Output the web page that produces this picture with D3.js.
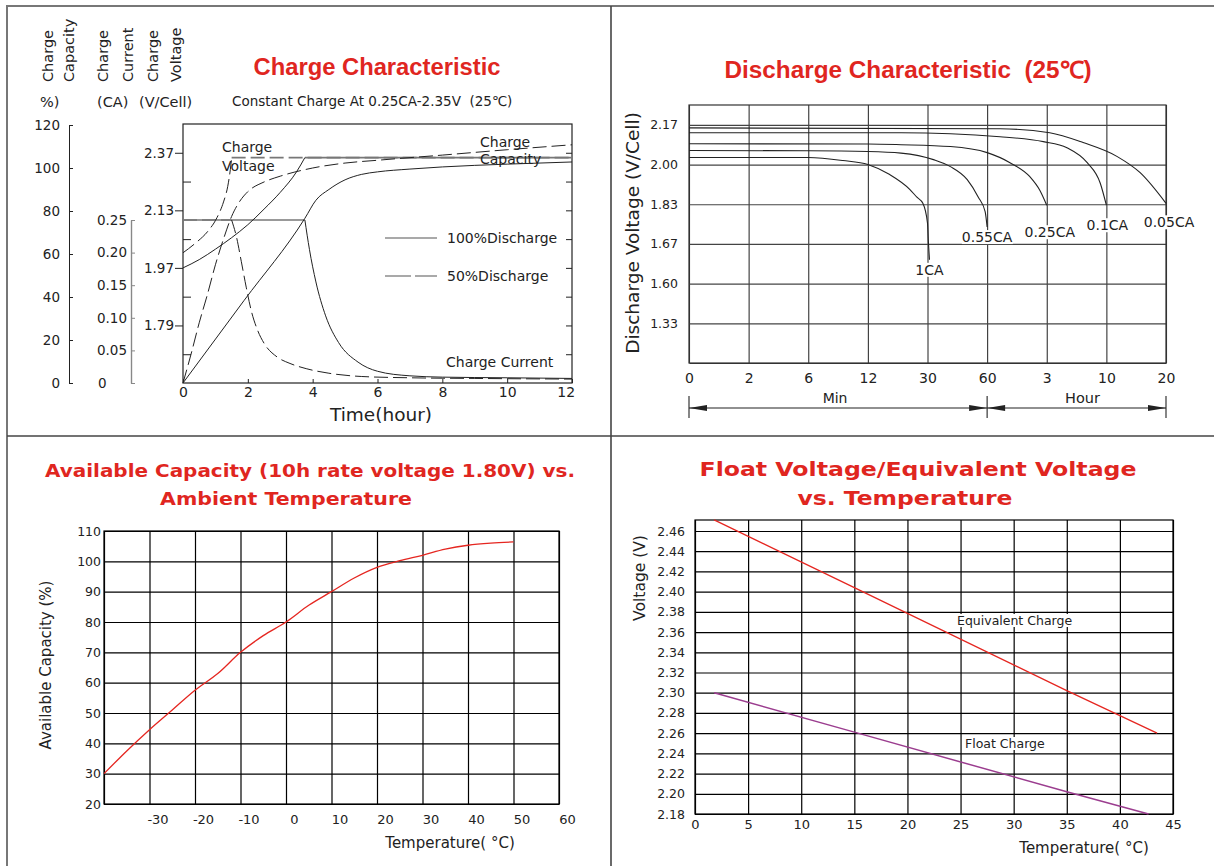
<!DOCTYPE html>
<html>
<head>
<meta charset="utf-8">
<script src="https://cdn.jsdelivr.net/npm/d3@7"></script>
<style>
  body { margin: 0; background: #fff; }
  svg text { font-family: "DejaVu Sans", sans-serif; fill: #222; }
  .title { font-family: "Liberation Sans", Arial, sans-serif; font-weight: bold; fill: #e0261f !important; }
  .title2 { font-family: "DejaVu Sans", sans-serif; font-weight: bold; fill: #e0261f !important; }
</style>
</head>
<body>
<svg id="chart" width="1214" height="866"></svg>
<script>
// ---- Charge characteristic (top left) ----
const chargeHours = [0, 2, 4, 6, 8, 10, 12];
const capacityTicks = [0, 20, 40, 60, 80, 100, 120];
const currentTicks = [0, 0.05, 0.10, 0.15, 0.20, 0.25];
const voltageTicks = [1.79, 1.97, 2.13, 2.37];
const voltageSteps = [2, 4, 6, 8];          // grid division carrying each voltage label
const voltMinorSteps = [1, 3, 5, 7];
const rightSteps = [1, 2, 3, 4, 5, 6, 7, 8];

// [hour, V/Cell]
const volt100Rise = [[0, 1.97], [0.5, 1.993], [1, 2.022], [1.5, 2.054], [2, 2.09], [2.5, 2.135], [3, 2.205], [3.5, 2.29], [3.76, 2.35]];
const volt100Hold = [[3.76, 2.35], [12, 2.35]];
const volt50Rise = [[0, 2.012], [0.4, 2.04], [0.75, 2.07], [1.05, 2.11], [1.25, 2.165], [1.38, 2.23], [1.46, 2.3], [1.5, 2.35]];
const volt50Hold = [[1.5, 2.35], [12, 2.35]];
// [hour, %]
const cap100 = [[0, 0], [1.88, 38.3], [3.76, 76.6], [4.1, 85], [4.5, 90], [5, 94.5], [5.5, 97], [6, 98.2], [7, 99.5], [8, 100.5], [10, 101.8], [12, 102.8]];
const cap50 = [[0, 0], [0.25, 13.5], [0.5, 28], [0.75, 41], [1, 55], [1.25, 67], [1.5, 77.5], [1.75, 84.5], [2, 89], [2.5, 93.5], [3, 96.2], [4, 100], [5, 102.3], [6, 103.6], [8, 106], [10, 108.5], [12, 110.8]];
// [hour, CA]
const current100Hold = [[0, 0.25], [3.76, 0.25]];
const current100Drop = [[3.76, 0.25], [3.9, 0.205], [4.1, 0.155], [4.4, 0.103], [4.8, 0.062], [5.4, 0.032], [6, 0.018], [7, 0.011], [8, 0.009], [10, 0.008], [12, 0.007]];
const current50Hold = [[0, 0.25], [1.5, 0.25]];
const current50Drop = [[1.5, 0.25], [1.65, 0.224], [1.8, 0.186], [1.95, 0.147], [2.1, 0.112], [2.3, 0.081], [2.5, 0.061], [2.9, 0.04], [3.3, 0.03], [3.8, 0.022], [4.5, 0.015], [5.5, 0.01], [7, 0.008], [9, 0.007], [12, 0.006]];

// ---- Discharge characteristic (top right) ----
const dischargeMinutes = [0, 2, 6, 12, 30, 60, 180, 600, 1200];
const dischargeTimeLabels = ["0", "2", "6", "12", "30", "60", "3", "10", "20"];
const dischargeVoltTicks = [1.33, 1.60, 1.67, 1.83, 2.00, 2.17];
const rateLabels = ["1CA", "0.55CA", "0.25CA", "0.1CA", "0.05CA"];
// [minutes, V/Cell]
const dis1CA = [[0, 2.03], [6, 2.03], [9.5, 2.017], [12, 2.0], [18.6, 1.957], [24.7, 1.893], [26.8, 1.86], [28.6, 1.834], [30, 1.754], [30.4, 1.686], [31, 1.642]];
const dis055CA = [[0, 2.06], [6, 2.059], [12, 2.056], [22, 2.049], [33, 2.021], [41.5, 1.991], [50, 1.935], [55.5, 1.861], [59, 1.8], [60, 1.738]];
const dis025CA = [[0, 2.089], [12, 2.088], [22, 2.085], [41.5, 2.077], [60, 2.051], [106, 2.008], [146, 1.948], [166, 1.89], [180, 1.826]];
const dis01CA = [[0, 2.136], [22, 2.136], [86, 2.119], [173, 2.098], [322, 2.072], [465, 2.008], [557, 1.92], [600, 1.826]];
const dis005CA = [[0, 2.157], [86, 2.153], [201, 2.136], [436, 2.094], [710, 2.034], [940, 1.965], [1200, 1.834]];
const dischargeCurves = [dis1CA, dis055CA, dis025CA, dis01CA, dis005CA];

// ---- Available capacity vs temperature (bottom left) ----
const ambientTempGrid = [-40, -30, -20, -10, 0, 10, 20, 30, 40, 50, 60];
const ambientTempLabels = [-30, -20, -10, 0, 10, 20, 30, 40, 50, 60];
const availCapTicks = [20, 30, 40, 50, 60, 70, 80, 90, 100, 110];
const capTemps = [-40, -35, -30, -25, -20, -15, -10, -5, 0, 5, 10, 15, 20, 25, 30, 35, 40, 45, 50];
const capValues = [30, 37.5, 44.5, 51, 57.5, 63, 70, 75.5, 80, 85.5, 90, 94.5, 98, 100.2, 102, 104, 105.3, 106, 106.4];

// ---- Float / equivalent voltage vs temperature (bottom right) ----
const floatTempTicks = [0, 5, 10, 15, 20, 25, 30, 35, 40, 45];
const floatVoltTicks = [2.18, 2.20, 2.22, 2.24, 2.26, 2.28, 2.30, 2.32, 2.34, 2.36, 2.38, 2.40, 2.42, 2.44, 2.46];
const equivalentCharge = [[1.8, 2.471], [15, 2.404], [35, 2.302], [43.5, 2.26]];
const floatCharge = [[1.8, 2.30], [15, 2.261], [35, 2.202], [42.7, 2.18]];

const svg = d3.select("#chart");
const ink = "#222";

function styleAxis(sel, size, color) {
  sel.attr("font-family", null).attr("font-size", size);
  sel.selectAll("text").attr("fill", ink);
  sel.selectAll("line").attr("stroke", color);
  sel.select(".domain").attr("stroke", color);
}

function labelWithBackground(g, x, y, txt, size, anchor) {
  const t = g.append("text").attr("x", x).attr("y", y)
    .attr("text-anchor", anchor).attr("font-size", size).text(txt);
  const b = t.node().getBBox();
  g.insert("rect", () => t.node())
    .attr("x", b.x).attr("y", b.y + 1).attr("width", b.width).attr("height", b.height - 2)
    .attr("fill", "#fff");
}

// frame
svg.append("path").attr("d", "M7,870V6H1220").attr("fill", "none").attr("stroke", "#777").attr("stroke-width", 2);
svg.append("line").attr("x1", 611).attr("y1", 6).attr("x2", 611).attr("y2", 866).attr("stroke", "#444").attr("stroke-width", 1.6);
svg.append("line").attr("x1", 7).attr("y1", 436).attr("x2", 1214).attr("y2", 436).attr("stroke", "#444").attr("stroke-width", 1.6);

function drawCharge() {
  const g = svg.append("g");
  const x = d3.scaleLinear().domain([0, 12]).range([183, 572]);
  const step = d3.scaleLinear().domain([0, 9]).range([383, 124]);
  const volt = d3.scaleLinear().domain(voltageTicks).range(voltageSteps.map(step));
  const cap = d3.scaleLinear().domain([0, 120]).range([383, 125]);
  const cur = d3.scaleLinear().domain([0, 0.25]).range([383, 220]);

  g.append("text").attr("class", "title").attr("x", 377).attr("y", 75)
    .attr("text-anchor", "middle").attr("font-size", 23.5)
    .attr("textLength", 247).attr("lengthAdjust", "spacingAndGlyphs")
    .text("Charge Characteristic");
  g.append("text").attr("x", 232).attr("y", 106).attr("font-size", 13.5)
    .style("white-space", "pre").text("Constant Charge At 0.25CA-2.35V  (25℃)");

  [["Charge", 53], ["Capacity", 74], ["Charge", 108], ["Current", 133], ["Charge", 158], ["Voltage", 181]]
    .forEach(([t, px]) => {
      g.append("text").attr("transform", `translate(${px},82) rotate(-90)`)
        .attr("font-size", 14.5).text(t);
    });
  [["%)", 40], ["(CA)", 97], ["(V/Cell)", 139]].forEach(([t, px]) => {
    g.append("text").attr("x", px).attr("y", 107).attr("font-size", 14.5).text(t);
  });

  // left axes
  const capAxis = g.append("g").attr("transform", "translate(69,0)")
    .call(d3.axisLeft(cap).tickValues(capacityTicks).tickSize(-4).tickSizeOuter(0).tickPadding(9).tickFormat(d3.format("d")));
  styleAxis(capAxis, 13.5, ink);

  const curAxis = g.append("g").attr("transform", "translate(131,0)")
    .call(d3.axisLeft(cur).tickValues(currentTicks).tickSize(-4).tickSizeOuter(0).tickPadding(4)
      .tickFormat(d => d === 0 ? "0" : d3.format(".2f")(d)));
  styleAxis(curAxis, 13.5, "#888");
  curAxis.select(".domain").attr("stroke-width", 1.4);
  curAxis.selectAll(".tick text").filter(d => d === 0).attr("text-anchor", "start").attr("x", -33);

  // plot box
  g.append("rect").attr("x", x(0)).attr("y", step(9)).attr("width", x(12) - x(0)).attr("height", step(0) - step(9))
    .attr("fill", "none").attr("stroke", ink).attr("stroke-width", 1.2);

  const vAxis = g.append("g").attr("transform", `translate(${x(0)},0)`)
    .call(d3.axisLeft(step).tickValues(voltageSteps).tickSize(8).tickPadding(1)
      .tickFormat((d, i) => voltageTicks[i].toFixed(2)));
  vAxis.select(".domain").remove();
  styleAxis(vAxis, 13.5, ink);

  const vMinor = g.append("g").attr("transform", `translate(${x(0)},0)`)
    .call(d3.axisLeft(step).tickValues(voltMinorSteps).tickSize(-8).tickFormat(""));
  vMinor.select(".domain").remove();
  styleAxis(vMinor, 13.5, ink);

  const rAxis = g.append("g").attr("transform", `translate(${x(12)},0)`)
    .call(d3.axisRight(step).tickValues(rightSteps).tickSize(-6).tickFormat(""));
  rAxis.select(".domain").remove();
  styleAxis(rAxis, 13.5, ink);

  const bAxis = g.append("g").attr("transform", `translate(0,${step(0)})`)
    .call(d3.axisBottom(x).tickValues(chargeHours).tickSize(-4).tickPadding(4));
  bAxis.select(".domain").remove();
  styleAxis(bAxis, 14, ink);
  bAxis.selectAll(".tick text").filter(d => d === 12).attr("dx", "-0.45em");

  g.append("text").attr("x", 381).attr("y", 421).attr("text-anchor", "middle")
    .attr("font-size", 18.5).text("Time(hour)");

  const curve = (data, ys, dashed, gray) => {
    g.append("path").datum(data)
      .attr("d", d3.line().x(d => x(d[0])).y(d => ys(d[1])).curve(d3.curveMonotoneX))
      .attr("fill", "none")
      .attr("stroke", gray ? "#777" : ink)
      .attr("stroke-width", gray ? 1.7 : 1)
      .attr("stroke-dasharray", dashed ? "14,5" : null);
  };

  curve(volt50Hold, volt, true, true);
  curve(volt100Hold, volt, false, true);
  curve(current50Hold, cur, true, true);
  curve(current100Hold, cur, false, true);

  curve(volt50Rise, volt, true, false);
  curve(volt100Rise, volt, false, false);
  curve(cap50, cap, true, false);
  curve(cap100, cap, false, false);
  curve(current50Drop, cur, true, false);
  curve(current100Drop, cur, false, false);

  // legend
  g.append("line").attr("x1", 385).attr("x2", 437).attr("y1", 238).attr("y2", 238)
    .attr("stroke", "#555").attr("stroke-width", 1.2);
  g.append("line").attr("x1", 385).attr("x2", 437).attr("y1", 276).attr("y2", 276)
    .attr("stroke", "#555").attr("stroke-width", 1.2).attr("stroke-dasharray", "26,4");
  g.append("text").attr("x", 447).attr("y", 243).attr("font-size", 14).text("100%Discharge");
  g.append("text").attr("x", 447).attr("y", 281).attr("font-size", 14).text("50%Discharge");

  g.append("text").attr("x", 222).attr("y", 152).attr("font-size", 14).text("Charge");
  g.append("text").attr("x", 222).attr("y", 171).attr("font-size", 14).text("Voltage");
  g.append("text").attr("x", 480).attr("y", 147).attr("font-size", 14).text("Charge");
  g.append("text").attr("x", 480).attr("y", 164).attr("font-size", 14).text("Capacity");
  g.append("text").attr("x", 446).attr("y", 367).attr("font-size", 14).text("Charge Current");
}

function drawDischarge() {
  const g = svg.append("g");
  const x0 = 689, x1 = 1166;
  const x = d3.scaleLinear().domain(dischargeMinutes)
    .range(dischargeMinutes.map((d, i) => x0 + i * (x1 - x0) / (dischargeMinutes.length - 1)));
  const step = d3.scaleLinear().domain([0, 6.5]).range([363, 105]);
  const y = d3.scaleLinear().domain(dischargeVoltTicks).range(dischargeVoltTicks.map((d, i) => step(i + 1)));

  g.append("text").attr("class", "title").attr("x", 908).attr("y", 78)
    .attr("text-anchor", "middle").attr("font-size", 23.5).style("white-space", "pre")
    .attr("textLength", 367).attr("lengthAdjust", "spacingAndGlyphs")
    .text("Discharge Characteristic  (25℃)");

  const xa = g.append("g").attr("transform", `translate(0,${step(0)})`)
    .call(d3.axisBottom(x).tickValues(dischargeMinutes).tickSize(-(step(0) - step(6.5))).tickSizeOuter(0)
      .tickPadding(10).tickFormat((d, i) => dischargeTimeLabels[i]));
  styleAxis(xa, 14, "#333");
  xa.selectAll("line").attr("stroke-width", 1.1);

  const ya = g.append("g").attr("transform", `translate(${x0},0)`)
    .call(d3.axisLeft(y).tickValues(dischargeVoltTicks).tickSize(-(x1 - x0)).tickSizeOuter(0)
      .tickPadding(11).tickFormat(d3.format(".2f")));
  ya.select(".domain").remove();
  styleAxis(ya, 12.5, "#444");
  ya.selectAll("line").attr("stroke-width", 1.2);

  g.append("rect").attr("x", x0).attr("y", step(6.5)).attr("width", x1 - x0).attr("height", step(0) - step(6.5))
    .attr("fill", "none").attr("stroke", "#333").attr("stroke-width", 1.2);

  const line = d3.line().x(d => x(d[0])).y(d => y(d[1])).curve(d3.curveMonotoneX);
  dischargeCurves.forEach(c => {
    g.append("path").datum(c).attr("d", line).attr("fill", "none")
      .attr("stroke", ink).attr("stroke-width", 1.1);
  });

  const labelDx = [0, 0, 3, 1, 3];
  const labelDy = [15, 15, 32, 25, 24];
  rateLabels.forEach((lab, i) => {
    const last = dischargeCurves[i][dischargeCurves[i].length - 1];
    labelWithBackground(g, x(last[0]) + labelDx[i], y(last[1]) + labelDy[i], lab, 14, "middle");
  });

  g.append("text").attr("transform", "translate(639,233) rotate(-90)")
    .attr("text-anchor", "middle").attr("font-size", 18.5).text("Discharge Voltage (V/Cell)");

  // Min / Hour dimension line
  const ay = 408;
  const marks = [x(0), x(60), x(1200)];
  g.append("line").attr("x1", marks[0]).attr("x2", marks[2]).attr("y1", ay).attr("y2", ay)
    .attr("stroke", ink).attr("stroke-width", 1.1);
  marks.forEach(m => g.append("line").attr("x1", m).attr("x2", m).attr("y1", 396).attr("y2", 418)
    .attr("stroke", ink).attr("stroke-width", 1.1));
  const arrow = (tip, dir) => `M${tip},${ay}L${tip - dir * 18},${ay - 3}L${tip - dir * 18},${ay + 3}Z`;
  [[marks[0], -1], [marks[1], 1], [marks[1], -1], [marks[2], 1]].forEach(([t, d]) => {
    g.append("path").attr("d", arrow(t, d)).attr("fill", ink);
  });
  g.append("text").attr("x", (marks[0] + marks[1]) / 2 - 3).attr("y", 403)
    .attr("text-anchor", "middle").attr("font-size", 14).text("Min");
  g.append("text").attr("x", (marks[1] + marks[2]) / 2 + 6).attr("y", 403)
    .attr("text-anchor", "middle").attr("font-size", 14.5).text("Hour");
}

function drawCapacityTemp() {
  const g = svg.append("g");
  const x = d3.scaleLinear().domain([-40, 60]).range([104, 559]);
  const y = d3.scaleLinear().domain([20, 110]).range([804, 531]);

  g.append("text").attr("class", "title2").attr("x", 310).attr("y", 477)
    .attr("text-anchor", "middle").attr("font-size", 18)
    .attr("textLength", 530).attr("lengthAdjust", "spacingAndGlyphs")
    .text("Available Capacity (10h rate voltage 1.80V) vs.");
  g.append("text").attr("class", "title2").attr("x", 286).attr("y", 505)
    .attr("text-anchor", "middle").attr("font-size", 18)
    .attr("textLength", 252).attr("lengthAdjust", "spacingAndGlyphs")
    .text("Ambient Temperature");

  const xa = g.append("g").attr("transform", `translate(0,${y(20)})`)
    .call(d3.axisBottom(x).tickValues(ambientTempGrid).tickSize(-(y(20) - y(110))).tickSizeOuter(0)
      .tickPadding(11).tickFormat(d => ambientTempLabels.includes(d) ? d : ""));
  styleAxis(xa, 13, "#000");
  xa.selectAll(".tick text").attr("dx", 8).attr("fill", "#333");

  const ya = g.append("g").attr("transform", `translate(${x(-40)},0)`)
    .call(d3.axisLeft(y).tickValues(availCapTicks).tickSize(-(x(60) - x(-40))).tickSizeOuter(0).tickPadding(3));
  styleAxis(ya, 12.5, "#000");
  ya.selectAll(".tick text").attr("fill", "#333");

  g.append("rect").attr("x", x(-40)).attr("y", y(110)).attr("width", x(60) - x(-40)).attr("height", y(20) - y(110))
    .attr("fill", "none").attr("stroke", "#000").attr("stroke-width", 1.2);
  g.selectAll(".tick line").attr("stroke-width", 1.2);

  g.append("path").datum(capTemps.map((t, i) => [t, capValues[i]]))
    .attr("d", d3.line().x(d => x(d[0])).y(d => y(d[1])).curve(d3.curveMonotoneX))
    .attr("fill", "none").attr("stroke", "#e52620").attr("stroke-width", 1.3);

  g.append("text").attr("transform", "translate(51,665) rotate(-90)").attr("text-anchor", "middle")
    .attr("font-size", 15).attr("fill", "#333").text("Available Capacity (%)");
  g.append("text").attr("x", 450).attr("y", 848).attr("text-anchor", "middle")
    .attr("font-size", 15).attr("fill", "#333").text("Temperature( °C)");
}

function drawFloat() {
  const g = svg.append("g");
  const x = d3.scaleLinear().domain([0, 45]).range([695, 1173]);
  const y = d3.scaleLinear().domain([2.18, 2.46]).range([814, 531]);
  const top = 520;

  g.append("text").attr("class", "title2").attr("x", 918).attr("y", 476)
    .attr("text-anchor", "middle").attr("font-size", 20)
    .attr("textLength", 437).attr("lengthAdjust", "spacingAndGlyphs")
    .text("Float Voltage/Equivalent Voltage");
  g.append("text").attr("class", "title2").attr("x", 905).attr("y", 505)
    .attr("text-anchor", "middle").attr("font-size", 20)
    .attr("textLength", 215).attr("lengthAdjust", "spacingAndGlyphs")
    .text("vs. Temperature");

  const xa = g.append("g").attr("transform", `translate(0,${y(2.18)})`)
    .call(d3.axisBottom(x).tickValues(floatTempTicks).tickSize(-(y(2.18) - top)).tickSizeOuter(0).tickPadding(6));
  styleAxis(xa, 13, "#000");
  xa.selectAll(".tick text").attr("fill", "#333");

  const ya = g.append("g").attr("transform", `translate(${x(0)},0)`)
    .call(d3.axisLeft(y).tickValues(floatVoltTicks).tickSize(-(x(45) - x(0))).tickSizeOuter(0)
      .tickPadding(10).tickFormat(d3.format(".2f")));
  styleAxis(ya, 12.5, "#000");
  ya.selectAll(".tick text").attr("fill", "#333");

  g.append("rect").attr("x", x(0)).attr("y", top).attr("width", x(45) - x(0)).attr("height", y(2.18) - top)
    .attr("fill", "none").attr("stroke", "#000").attr("stroke-width", 1.2);
  g.selectAll(".tick line").attr("stroke-width", 1.2);

  const line = d3.line().x(d => x(d[0])).y(d => y(d[1]));
  g.append("path").datum(equivalentCharge).attr("d", line).attr("fill", "none")
    .attr("stroke", "#e52620").attr("stroke-width", 1.3);
  g.append("path").datum(floatCharge).attr("d", line).attr("fill", "none")
    .attr("stroke", "#9b3d8f").attr("stroke-width", 1.5);

  labelWithBackground(g, 957, 625, "Equivalent Charge", 12.5, "start");
  labelWithBackground(g, 965, 748, "Float Charge", 12.5, "start");

  g.append("text").attr("transform", "translate(645,578) rotate(-90)").attr("text-anchor", "middle")
    .attr("font-size", 15.5).attr("fill", "#333").text("Voltage (V)");
  g.append("text").attr("x", 1084).attr("y", 853).attr("text-anchor", "middle")
    .attr("font-size", 15).attr("fill", "#333").text("Temperature( °C)");
}

drawCharge();
drawDischarge();
drawCapacityTemp();
drawFloat();
</script>
</body>
</html>
